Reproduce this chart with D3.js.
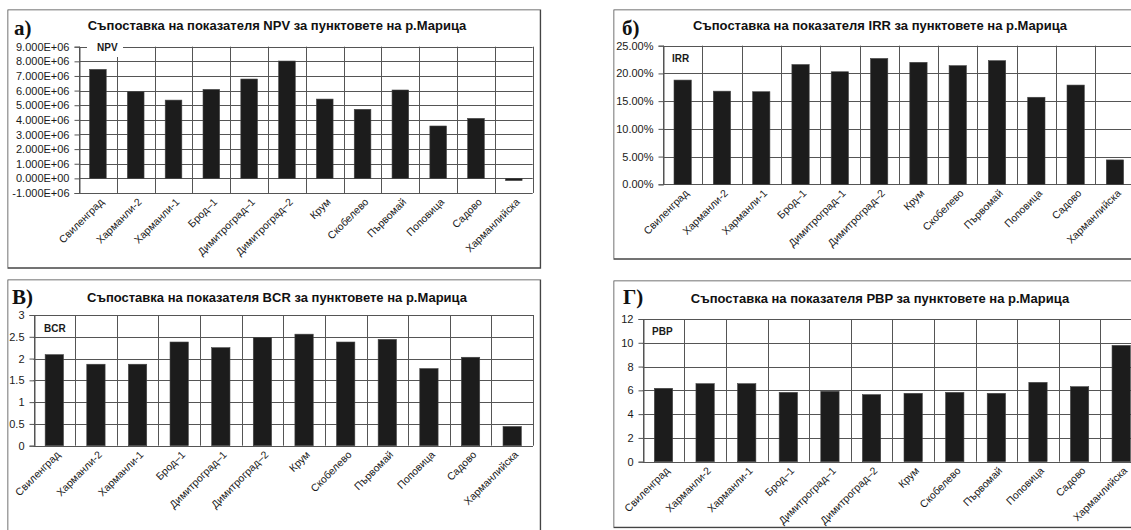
<!DOCTYPE html>
<html><head><meta charset="utf-8">
<script src="https://cdn.jsdelivr.net/npm/d3@7/dist/d3.min.js"></script>
<style>
html,body{margin:0;padding:0;background:#fff;}
svg{display:block;}
text{font-family:Arial,"Liberation Sans",sans-serif;}
text.letter{font-family:"Liberation Serif","Times New Roman",serif;}
</style>
</head><body>
<svg id="chart" width="1131" height="530"></svg>
<script>
// ---------------- DATA ----------------
const categories = ["Свиленград","Харманли-2","Харманли-1","Брод–1","Димитроград–1","Димитроград–2","Крум","Скобелево","Първомай","Поповица","Садово","Харманлийска"];

const npvValues = [7.45e6, 5.92e6, 5.35e6, 6.08e6, 6.79e6, 8.02e6, 5.42e6, 4.72e6, 6.04e6, 3.58e6, 4.10e6, -0.15e6];
const irrValues = [0.188, 0.168, 0.167, 0.216, 0.203, 0.227, 0.220, 0.214, 0.223, 0.157, 0.179, 0.044];
const bcrValues = [2.09, 1.87, 1.87, 2.38, 2.25, 2.48, 2.56, 2.38, 2.44, 1.77, 2.03, 0.44];
const pbpValues = [6.17, 6.56, 6.56, 5.83, 5.92, 5.64, 5.75, 5.83, 5.75, 6.67, 6.31, 9.78];

const npvTicks = [-1e6, 0, 1e6, 2e6, 3e6, 4e6, 5e6, 6e6, 7e6, 8e6, 9e6];
const npvTickLabels = ["-1.000E+06","0.000E+00","1.000E+06","2.000E+06","3.000E+06","4.000E+06","5.000E+06","6.000E+06","7.000E+06","8.000E+06","9.000E+06"];
const irrTicks = [0, 0.05, 0.10, 0.15, 0.20, 0.25];
const irrTickLabels = ["0.00%","5.00%","10.00%","15.00%","20.00%","25.00%"];
const bcrTicks = [0, 0.5, 1, 1.5, 2, 2.5, 3];
const bcrTickLabels = ["0","0.5","1","1.5","2","2.5","3"];
const pbpTicks = [0, 2, 4, 6, 8, 10, 12];
const pbpTickLabels = ["0","2","4","6","8","10","12"];

const panelLetters = ["а)", "б)", "В)", "Г)"];
const seriesNames = ["NPV", "IRR", "BCR", "PBP"];
const titles = [
  "Съпоставка на показателя NPV за пунктовете на р.Марица",
  "Съпоставка на показателя IRR за пунктовете на р.Марица",
  "Съпоставка на показателя BCR за пунктовете на р.Марица",
  "Съпоставка на показателя PBP за пунктовете на р.Марица"
];

// ---------------- LAYOUT ----------------
const panels = [
  {values:npvValues, ticks:npvTicks, labels:npvTickLabels, domain:[-1e6,9e6],
   box:[7.5,9.5,534,259.5], plot:[79,532.7,46.7,193], title:[277,25], letter:[14,34.5],
   series:[97,51], seriesBox:true},
  {values:irrValues, ticks:irrTicks, labels:irrTickLabels, domain:[0,0.25],
   box:[613.5,9.5,535,250.5], plot:[663,1134.6,45.7,184.3], title:[880,25], letter:[622,34.5],
   series:[672,62], seriesBox:false},
  {values:bcrValues, ticks:bcrTicks, labels:bcrTickLabels, domain:[0,3],
   box:[7.5,279.5,534,270], plot:[33.5,533,315,445.7], title:[277,297], letter:[12,304],
   series:[44,332], seriesBox:false},
  {values:pbpValues, ticks:pbpTicks, labels:pbpTickLabels, domain:[0,12],
   box:[613.5,280.5,535,248], plot:[642.7,1142,319,461.7], title:[880,298], letter:[623,304],
   series:[652,334.5], seriesBox:false}
];

const svg = d3.select("#chart");
const defs = svg.append("defs");
const gridColor = "#555";
const barColor = "#1c1c1c";

panels.forEach((p, idx) => {
  const [bx, by, bw, bh] = p.box;
  const clipId = "clip" + idx;
  defs.append("clipPath").attr("id", clipId)
    .append("rect").attr("x", bx).attr("y", by).attr("width", bw).attr("height", bh);

  const g = svg.append("g").attr("clip-path", `url(#${clipId})`);
  g.append("rect").attr("x", bx).attr("y", by).attr("width", bw).attr("height", bh)
    .attr("fill", "#fff");

  const [pl, pr, pt, pb] = p.plot;
  const x = d3.scaleBand().domain(categories).range([pl, pr]).paddingInner(0.56).paddingOuter(0.28);
  const y = d3.scaleLinear().domain(p.domain).range([pb, pt]);
  const step = x.step();

  // horizontal gridlines
  g.append("g").selectAll("line").data(p.ticks).join("line")
    .attr("x1", pl).attr("x2", pr)
    .attr("y1", d => Math.round(y(d)) + 0.5).attr("y2", d => Math.round(y(d)) + 0.5)
    .attr("stroke", gridColor).attr("stroke-width", 1);

  // vertical gridlines (category boundaries)
  const bounds = d3.range(categories.length + 1).map(i => pl + i * step);
  g.append("g").selectAll("line").data(bounds).join("line")
    .attr("x1", d => Math.round(d) + 0.5).attr("x2", d => Math.round(d) + 0.5)
    .attr("y1", pt).attr("y2", pb)
    .attr("stroke", gridColor).attr("stroke-width", 1);

  // y axis ticks + labels
  const axis = d3.axisLeft(y).tickValues(p.ticks)
    .tickFormat((d, i) => p.labels[i]).tickSize(5).tickPadding(5);
  const ag = g.append("g").attr("transform", `translate(${Math.round(pl) + 0.5},0)`).call(axis);
  ag.select(".domain").attr("stroke", gridColor);
  ag.selectAll(".tick line").attr("stroke", gridColor);
  ag.selectAll(".tick text").attr("font-size", 11).attr("fill", "#1a1a1a");

  // series label (with white box on panel a)
  if (p.seriesBox) {
    g.append("rect").attr("x", p.series[0] - 10).attr("y", p.series[1] - 13)
      .attr("width", 36).attr("height", 19).attr("fill", "#fff");
  }
  g.append("text").attr("x", p.series[0]).attr("y", p.series[1])
    .attr("font-size", 10).attr("font-weight", "bold").attr("fill", "#1a1a1a")
    .text(seriesNames[idx]);

  // bars
  const zero = y(0);
  g.append("g").selectAll("rect").data(p.values).join("rect")
    .attr("x", (d, i) => x(categories[i]))
    .attr("width", x.bandwidth())
    .attr("y", d => Math.min(y(d), zero))
    .attr("height", d => Math.max(2, Math.abs(y(d) - zero)))
    .attr("fill", barColor)
    .attr("stroke", "#444").attr("stroke-width", 0.6);

  // x labels
  g.append("g").selectAll("text").data(categories).join("text")
    .attr("transform", d => `translate(${x(d) + x.bandwidth() / 2 + 4},${pb + 7}) rotate(-45)`)
    .attr("text-anchor", "end")
    .attr("dy", "0.35em")
    .attr("font-size", 10.5).attr("fill", "#1a1a1a")
    .text(d => d);

  // title
  g.append("text").attr("x", p.title[0]).attr("y", p.title[1])
    .attr("text-anchor", "middle").attr("dy", "0.35em")
    .attr("font-size", 13).attr("font-weight", "bold").attr("fill", "#111")
    .text(titles[idx]);

  // panel letter
  g.append("text").attr("class", "letter").attr("x", p.letter[0]).attr("y", p.letter[1])
    .attr("font-size", 21).attr("font-weight", "bold").attr("fill", "#111")
    .text(panelLetters[idx]);

  // border
  g.append("rect").attr("x", bx).attr("y", by).attr("width", bw - 1).attr("height", bh - 1)
    .attr("fill", "none").attr("stroke", "#444").attr("stroke-width", 1.5);
});
</script>
</body></html>
